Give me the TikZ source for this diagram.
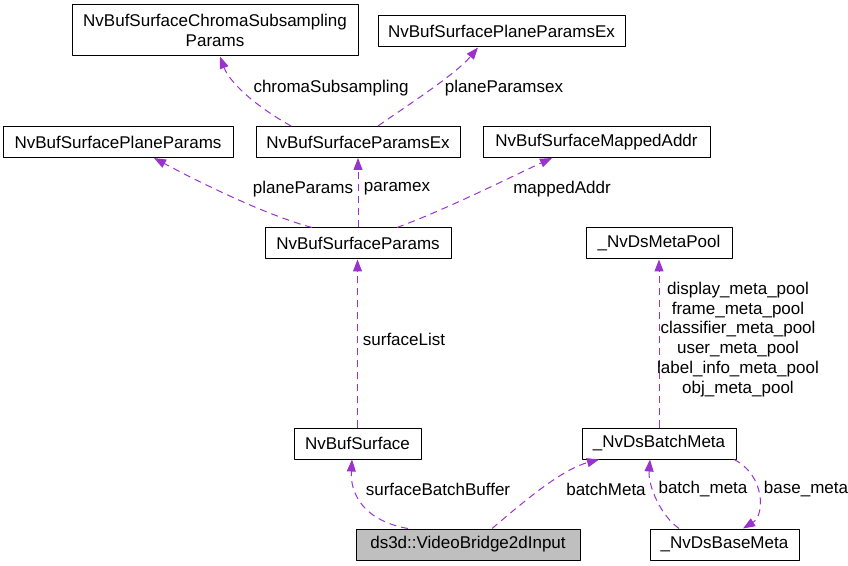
\documentclass[tikz,border=0pt]{standalone}
\usepackage{fontspec}
\setmainfont{Liberation Sans}
\usetikzlibrary{arrows.meta}
\definecolor{edgepurple}{HTML}{9A32CD}
\definecolor{boxgray}{HTML}{BFBFBF}
\begin{document}
\begin{tikzpicture}[x=1pt,y=1pt,line join=round,
  font=\fontsize{17}{20}\selectfont,
  cls/.style={draw=black,line width=1pt,minimum height=31pt,inner sep=0pt,fill=white},
  dep/.style={draw=edgepurple,line width=1pt,dash pattern=on 7pt off 5pt,-{Triangle[length=12pt,width=9pt]}},
  lbl/.style={inner sep=0pt,anchor=center}]
\useasboundingbox (0,0) rectangle (848,565);
\node[cls,minimum width=286pt,minimum height=51pt,align=center] (chroma) at (215,534.5) {NvBufSurfaceChromaSubsampling\\Params};
\node[cls,minimum width=247pt] (ppex) at (501.5,533.5) {NvBufSurfacePlaneParamsEx};
\node[cls,minimum width=230pt] (pp) at (118,423) {NvBufSurfacePlaneParams};
\node[cls,minimum width=204pt] (pex) at (358,423) {NvBufSurfaceParamsEx};
\node[cls,minimum width=227pt] (mapped) at (596.5,423) {NvBufSurfaceMappedAddr};
\node[cls,minimum width=186pt] (sp) at (358,321.5) {NvBufSurfaceParams};
\node[cls,minimum width=146pt] (pool) at (659,321.5) {\_NvDsMetaPool};
\node[cls,minimum width=127pt] (surf) at (357.5,121.5) {NvBufSurface};
\node[cls,minimum width=154pt] (batch) at (659,121.5) {\_NvDsBatchMeta};
\node[cls,minimum width=224pt,fill=boxgray] (video) at (468,20.5) {ds3d::VideoBridge2dInput};
\node[cls,minimum width=149pt] (base) at (724.5,20.5) {\_NvDsBaseMeta};

\draw[dep] ([xshift=-67pt]pex.north) .. controls (252,461) and (229,484) .. ([xshift=5pt]chroma.south);
\draw[dep] ([xshift=20pt]pex.north) .. controls (405,458) and (455,490) .. ([xshift=-23.5pt]ppex.south);
\draw[dep] ([xshift=-46pt]sp.north) .. controls (265,350) and (195,385) .. ([xshift=36pt]pp.south);
\draw[dep] (sp.north) -- (pex.south);
\draw[dep] ([xshift=39pt]sp.north) .. controls (445,355) and (515,390) .. ([xshift=-44.5pt]mapped.south);
\draw[dep] (surf.north) -- (surf.north |- sp.south);
\draw[dep] (batch.north) -- (pool.south);
\draw[dep] ([xshift=-60pt]video.north) .. controls (365,44) and (350,70) .. ([xshift=-5.5pt]surf.south);
\draw[dep] ([xshift=24pt]video.north) .. controls (520,60) and (560,95) .. ([xshift=-60pt]batch.south);
\draw[dep] ([xshift=-45.5pt]base.north) .. controls (660,50) and (648,80) .. ([xshift=-9pt]batch.south);
\draw[dep] ([xshift=75pt]batch.south) .. controls (765,90) and (765,50) .. ([xshift=18.5pt]base.north);

\node[lbl] (lchroma) at (331,477) {chromaSubsampling};
\node[lbl] (lppex) at (504,477) {planeParamsex};
\node[lbl] (lpp) at (303,376) {planeParams};
\node[lbl] (lpex) at (397,376) {paramex};
\node[lbl] (lmapped) at (562,376) {mappedAddr};
\node[lbl] (lsurflist) at (404,226) {surfaceList};
\node[lbl,align=center,font=\fontsize{17}{19.8}\selectfont] (lpool) at (738,225.5) {display\_meta\_pool\\frame\_meta\_pool\\classifier\_meta\_pool\\user\_meta\_pool\\label\_info\_meta\_pool\\obj\_meta\_pool};
\node[lbl] (lsbb) at (438,76) {surfaceBatchBuffer};
\node[lbl] (lbm) at (606,76) {batchMeta};
\node[lbl] (lbm2) at (703,76) {batch\_meta};
\node[lbl] (lbase) at (806,76) {base\_meta};
\end{tikzpicture}
\end{document}
